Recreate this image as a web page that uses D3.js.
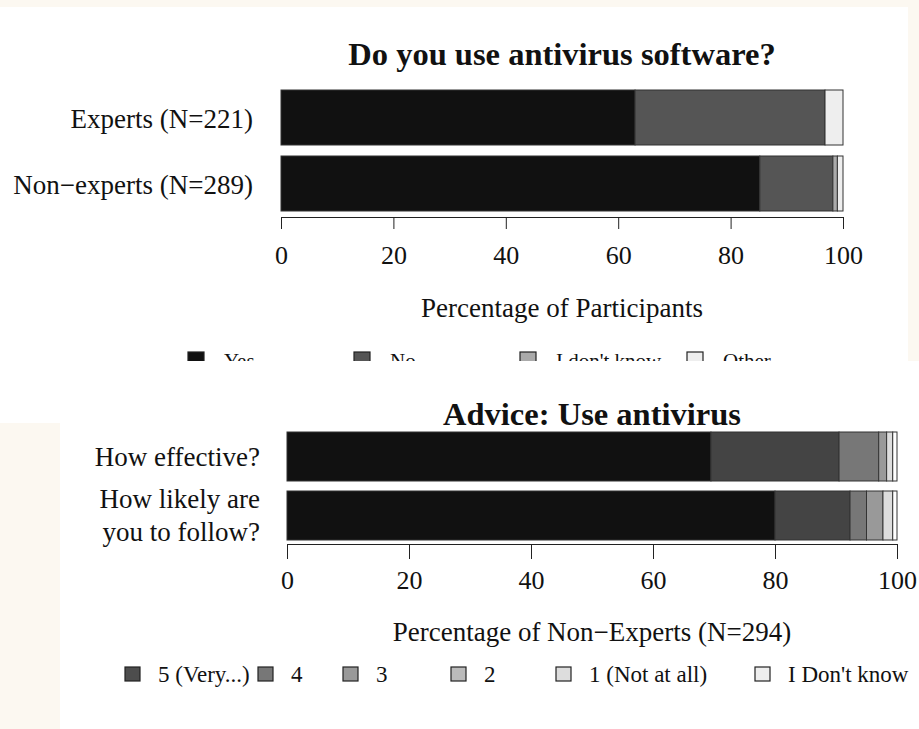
<!DOCTYPE html>
<html>
<head>
<meta charset="utf-8">
<script src="https://cdn.jsdelivr.net/npm/d3@7"></script>
<style>
  html, body { margin: 0; padding: 0; background: #fcf8f1; }
  svg { display: block; }
  text { font-family: "Liberation Serif", "Times New Roman", serif; fill: #111; }
</style>
</head>
<body>
<div id="chart"></div>
<script>
// top chart: "Do you use antivirus software?"
const groups1 = ["Experts (N=221)", "Non\u2212experts (N=289)"];
const answers1 = ["Yes", "No", "I don't know", "Other"];
const yesVals = [63.0, 85.2];
const noVals = [33.8, 13.0];
const idkVals = [0.0, 0.8];
const otherVals = [3.2, 1.0];
const ticks1 = [0, 20, 40, 60, 80, 100];

// bottom chart: "Advice: Use antivirus"
const questions2 = [["How effective?"], ["How likely are", "you to follow?"]];
const ratings2 = ["5 (Very...)", "4", "3", "2", "1 (Not at all)", "I Don't know"];
const r5 = [69.5, 80.0];
const r4 = [21.0, 12.3];
const r3 = [6.5, 2.7];
const r2 = [1.3, 2.7];
const r1 = [1.0, 1.6];
const rIdk = [0.7, 0.7];
const ticks2 = [0, 20, 40, 60, 80, 100];

const W = 919, H = 729;
const labelSize = 27;
const tickSize = 26;
const serif = "Liberation Serif, Times New Roman, serif";

const svg = d3.select("#chart").append("svg")
  .attr("width", W)
  .attr("height", H);

// page background + white panels
svg.append("rect").attr("width", W).attr("height", H).attr("fill", "#fcf8f1");
svg.append("rect").attr("x", 0).attr("y", 7).attr("width", 908).attr("height", 354).attr("fill", "#fff");
svg.append("rect").attr("x", 60).attr("y", 361).attr("width", 859).attr("height", 368).attr("fill", "#fff");
svg.append("rect").attr("x", 0).attr("y", 361).attr("width", 60).attr("height", 62).attr("fill", "#fff");

svg.append("clipPath").attr("id", "topClip")
  .append("rect").attr("x", 0).attr("y", 7).attr("width", 908).attr("height", 354);

// ---------- top chart ----------
const topG = svg.append("g").attr("clip-path", "url(#topClip)");

const rows1 = groups1.map((g, i) => ({
  group: g,
  "Yes": yesVals[i],
  "No": noVals[i],
  "I don't know": idkVals[i],
  "Other": otherVals[i]
}));

const x1 = d3.scaleLinear().domain([0, 100]).range([281, 843]);
const y1 = d3.scaleBand().domain(groups1).range([90, 211]).paddingInner(11 / 66).paddingOuter(0);
const color1 = d3.scaleOrdinal().domain(answers1).range(["#111111", "#555555", "#aaaaaa", "#eeeeee"]);

const stack1 = d3.stack().keys(answers1)(rows1);

topG.append("g")
  .selectAll("g")
  .data(stack1)
  .enter()
  .append("g")
  .attr("fill", d => color1(d.key))
  .selectAll("rect")
  .data(d => d)
  .enter()
  .append("rect")
  .attr("x", d => x1(d[0]))
  .attr("y", d => y1(d.data.group))
  .attr("width", d => x1(d[1]) - x1(d[0]))
  .attr("height", y1.bandwidth())
  .attr("stroke", "#333")
  .attr("stroke-width", 1);

topG.append("text")
  .attr("x", (x1(0) + x1(100)) / 2)
  .attr("y", 65)
  .attr("text-anchor", "middle")
  .attr("font-size", 32.5)
  .attr("font-weight", "bold")
  .text("Do you use antivirus software?");

topG.selectAll(".cat1")
  .data(groups1)
  .enter()
  .append("text")
  .attr("class", "cat1")
  .attr("x", 253)
  .attr("y", d => y1(d) + y1.bandwidth() / 2 + 10)
  .attr("text-anchor", "end")
  .attr("font-size", labelSize)
  .text(d => d);

const xAxis1 = topG.append("g")
  .attr("transform", "translate(0,217)")
  .call(d3.axisBottom(x1).tickValues(ticks1).tickSize(12).tickSizeOuter(0).tickPadding(17));
xAxis1.select(".domain").attr("stroke", "#222");
xAxis1.selectAll(".tick line").attr("stroke", "#222");
xAxis1.selectAll(".tick text")
  .attr("font-size", tickSize)
  .attr("font-family", serif)
  .attr("fill", "#111");

topG.append("text")
  .attr("x", (x1(0) + x1(100)) / 2)
  .attr("y", 317)
  .attr("text-anchor", "middle")
  .attr("font-size", labelSize)
  .text("Percentage of Participants");

// legend, cut off by the panel edge
const legendX1 = [188, 354, 520, 687];
const leg1 = topG.selectAll(".leg1")
  .data(answers1)
  .enter()
  .append("g")
  .attr("class", "leg1")
  .attr("transform", (d, i) => `translate(${legendX1[i]},352)`);
leg1.append("rect")
  .attr("width", 16)
  .attr("height", 15)
  .attr("fill", d => color1(d))
  .attr("stroke", "#222")
  .attr("stroke-width", 1.2);
leg1.append("text")
  .attr("x", 36)
  .attr("y", 16)
  .attr("font-size", 21)
  .text(d => d);

// ---------- bottom chart ----------
const bottomG = svg.append("g");

const rows2 = questions2.map((q, i) => ({
  q: q.join(" "),
  "5 (Very...)": r5[i],
  "4": r4[i],
  "3": r3[i],
  "2": r2[i],
  "1 (Not at all)": r1[i],
  "I Don't know": rIdk[i]
}));

const x2 = d3.scaleLinear().domain([0, 100]).range([287, 897]);
const y2 = d3.scaleBand().domain(rows2.map(d => d.q)).range([432, 540]).paddingInner(10 / 59).paddingOuter(0);
const barColor2 = d3.scaleOrdinal().domain(ratings2).range(["#111111", "#444444", "#777777", "#999999", "#dddddd", "#ffffff"]);
const legColor2 = d3.scaleOrdinal().domain(ratings2).range(["#4d4d4d", "#777777", "#999999", "#bbbbbb", "#dddddd", "#eeeeee"]);

const stack2 = d3.stack().keys(ratings2)(rows2);

bottomG.append("g")
  .selectAll("g")
  .data(stack2)
  .enter()
  .append("g")
  .attr("fill", d => barColor2(d.key))
  .selectAll("rect")
  .data(d => d)
  .enter()
  .append("rect")
  .attr("x", d => x2(d[0]))
  .attr("y", d => y2(d.data.q))
  .attr("width", d => x2(d[1]) - x2(d[0]))
  .attr("height", y2.bandwidth())
  .attr("stroke", "#333")
  .attr("stroke-width", 1);

bottomG.append("text")
  .attr("x", (x2(0) + x2(100)) / 2)
  .attr("y", 425)
  .attr("text-anchor", "middle")
  .attr("font-size", 32.5)
  .attr("font-weight", "bold")
  .text("Advice: Use antivirus");

const cat2 = bottomG.selectAll(".cat2")
  .data(rows2)
  .enter()
  .append("text")
  .attr("class", "cat2")
  .attr("text-anchor", "end")
  .attr("font-size", labelSize);
cat2.each(function (d, i) {
  const lines = questions2[i];
  const mid = y2(d.q) + y2.bandwidth() / 2;
  lines.forEach((line, j) => {
    d3.select(this).append("tspan")
      .attr("x", 260)
      .attr("y", mid + 9 + (j - (lines.length - 1) / 2) * 33)
      .text(line);
  });
});

const xAxis2 = bottomG.append("g")
  .attr("transform", "translate(0,544)")
  .call(d3.axisBottom(x2).tickValues(ticks2).tickSize(15).tickSizeOuter(0).tickPadding(12));
xAxis2.select(".domain").attr("stroke", "#222");
xAxis2.selectAll(".tick line").attr("stroke", "#222");
xAxis2.selectAll(".tick text")
  .attr("font-size", tickSize)
  .attr("font-family", serif)
  .attr("fill", "#111");

bottomG.append("text")
  .attr("x", (x2(0) + x2(100)) / 2)
  .attr("y", 641)
  .attr("text-anchor", "middle")
  .attr("font-size", labelSize)
  .text("Percentage of Non\u2212Experts (N=294)");

const legendX2 = [125, 258, 343, 451, 556, 755];
const leg2 = bottomG.selectAll(".leg2")
  .data(ratings2)
  .enter()
  .append("g")
  .attr("class", "leg2")
  .attr("transform", (d, i) => `translate(${legendX2[i]},667)`);
leg2.append("rect")
  .attr("width", 15)
  .attr("height", 14)
  .attr("fill", d => legColor2(d))
  .attr("stroke", "#222")
  .attr("stroke-width", 1.2);
leg2.append("text")
  .attr("x", 33)
  .attr("y", 15)
  .attr("font-size", 23)
  .text(d => d);
</script>
</body>
</html>
